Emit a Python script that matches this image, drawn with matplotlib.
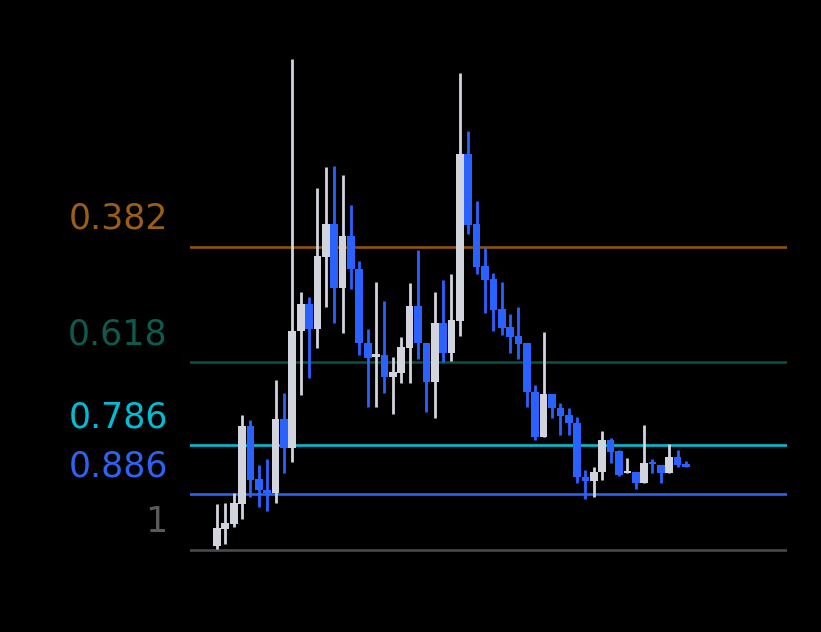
import numpy as np
import matplotlib.pyplot as plt

# Candle data (price units, fib 1 level = 0, swing high = 491)
opens = [4, 21, 26, 46, 124, 71, 60, 57, 131, 102,
         219, 246, 221, 293, 326, 262, 314, 281, 207, 193,
         195, 173, 177, 202, 244, 207, 168, 227, 197, 229,
         396, 326, 284, 271, 241, 223, 214, 207, 158, 113,
         156, 142, 135, 127, 73, 69, 78, 110, 99, 77,
         78, 67, 88, 85, 77, 93, 86]
highs = [46, 47, 57, 135, 130, 85, 91, 170, 157, 491,
         258, 253, 362, 383, 384, 375, 345, 289, 221, 268,
         249, 193, 213, 267, 300, 207, 258, 270, 276, 477,
         419, 349, 302, 277, 268, 236, 243, 207, 165, 218,
         156, 147, 142, 133, 80, 83, 119, 112, 100, 92,
         78, 125, 91, 85, 106, 100, 89]
lows = [1, 6, 23, 31, 53, 43, 39, 47, 77, 88,
        155, 172, 202, 243, 227, 217, 261, 195, 143, 143,
        157, 136, 167, 167, 191, 138, 132, 188, 189, 214,
        316, 276, 237, 219, 215, 197, 191, 143, 110, 113,
        132, 115, 115, 67, 51, 53, 70, 87, 74, 77,
        61, 67, 77, 67, 77, 83, 83]
closes = [22, 27, 47, 124, 70, 60, 57, 131, 102, 219,
          246, 221, 294, 326, 262, 314, 281, 207, 192, 196,
          173, 178, 203, 244, 207, 168, 227, 197, 230, 396,
          325, 283, 270, 240, 222, 213, 206, 158, 113, 156,
          142, 134, 127, 73, 69, 78, 110, 98, 75, 79,
          67, 87, 86, 77, 93, 85, 83]

swing_low = 0
swing_high = 491
fib_levels = [0.382, 0.618, 0.786, 0.886, 1]
fib_colors = ['#8f5208', '#0c4d44', '#00bcd4', '#2e62f0', '#4a4a4a']
label_colors = ['#9a5e14', '#0e5a4f', '#00bcd4', '#2e62f0', '#5a5a5a']

UP = '#d1d4dc'
DOWN = '#2962ff'

fig = plt.figure(figsize=(8.21, 6.32), dpi=100, facecolor='black')
ax = fig.add_axes([190 / 821, 62 / 632, 597 / 821, 530 / 632])
ax.set_facecolor('black')

# Fibonacci retracement lines with labels on the left
for lvl, col, lcol in zip(fib_levels, fib_colors, label_colors):
    price = swing_high - lvl * (swing_high - swing_low)
    ax.axhline(price, color=col, lw=1.9, zorder=1)
    ax.annotate(f'{lvl:g}', xy=(0, price), xycoords=ax.get_yaxis_transform(),
                xytext=(-16, 20), textcoords='offset points',
                ha='right', va='center', fontsize=25, color=lcol)

# Candles
x = np.arange(len(opens))
o = np.array(opens)
c = np.array(closes)
colors = [UP if cc >= oo else DOWN for oo, cc in zip(o, c)]
ax.vlines(x, lows, highs, colors=colors, lw=2.0, zorder=2)
body_bottom = np.minimum(o, c)
body_height = np.maximum(np.abs(c - o), 1.5)
ax.bar(x, body_height, bottom=body_bottom, width=0.92, color=colors,
       linewidth=0, zorder=3)

ax.set_xlim(-3.22, 68.06)
ax.set_ylim(-20, 510)
ax.axis('off')

fig.savefig('out.png', dpi=100, facecolor='black')
